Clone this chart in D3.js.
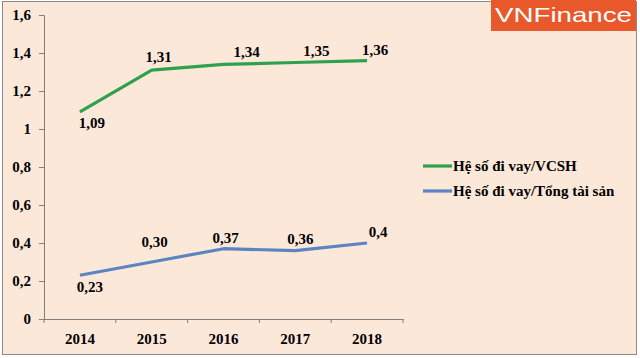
<!DOCTYPE html>
<html><head><meta charset="utf-8">
<script src="https://cdn.jsdelivr.net/npm/d3@7"></script>
<style>body{margin:0;background:#fff}svg{display:block}</style>
</head><body><svg id="c" width="640" height="358"></svg>
<script>
const years = ["2014","2015","2016","2017","2018"];
const seriesNames = ["Hệ số đi vay/VCSH","Hệ số đi vay/Tổng tài sản"];
const vcsh = [1.09,1.31,1.34,1.35,1.36];
const tongTaiSan = [0.23,0.30,0.37,0.36,0.40];
const vcshLabels = ["1,09","1,31","1,34","1,35","1,36"];
const ttsLabels = ["0,23","0,30","0,37","0,36","0,4"];
const yTicks = [0,0.2,0.4,0.6,0.8,1,1.2,1.4,1.6];
const colors = ["#2ea14f","#5b84c2"];
// label placement (dx, dy of baseline relative to point) — layout only
const labelOffsets = [
  [[12,16],[7,-8],[23,-7],[21,-7],[8,-6]],
  [[10,17],[3,-15],[2,-6],[5,-7],[11,-6]]
];

const svg = d3.select("#c");
const serif = sel => sel.style("font-family",'"Liberation Serif"').style("font-weight","bold")
  .style("font-size","15px").style("fill","#000");

svg.append("rect").attr("x",2.5).attr("y",1.5).attr("width",634).attr("height",353)
  .attr("fill","#fce8d9").attr("stroke","#8a8a8a").attr("stroke-width",1);

const x = d3.scaleBand().domain(years).range([44,403]);
const y = d3.scaleLinear().domain([0,1.6]).range([319,15]);

const yAxis = svg.append("g").attr("transform","translate(44,0)")
  .call(d3.axisLeft(y).tickValues(yTicks).tickSize(5).tickPadding(8)
    .tickFormat(d => String(d).replace(".", ",")));
const xAxis = svg.append("g").attr("transform","translate(0,319)")
  .call(d3.axisBottom(x).tickSize(0).tickPadding(14));
[yAxis,xAxis].forEach(g=>{
  g.selectAll("path,line").attr("stroke","#7f7f7f");
  g.selectAll("text").call(serif);
});
svg.append("g").selectAll("line").data(years.concat(["end"])).join("line")
  .attr("x1",(d,i)=> i<years.length ? x(d) : x.range()[1])
  .attr("x2",(d,i)=> i<years.length ? x(d) : x.range()[1])
  .attr("y1",319).attr("y2",323).attr("stroke","#7f7f7f");

const cx = d => x(d)+x.bandwidth()/2;
const line = d3.line().x((d,i)=>cx(years[i])).y(d=>y(d));
[vcsh,tongTaiSan].forEach((s,k)=>{
  svg.append("path").datum(s).attr("d",line).attr("fill","none")
    .attr("stroke",colors[k]).attr("stroke-width",3.2).attr("stroke-linejoin","round");
});
const lab = (s,labels,off)=>{
  svg.append("g").selectAll("text").data(s).join("text")
   .attr("x",(d,i)=>cx(years[i])+off[i][0]).attr("y",(d,i)=> y(d)+off[i][1])
   .attr("text-anchor","middle").text((d,i)=>labels[i]).call(serif);
};
lab(vcsh,vcshLabels,labelOffsets[0]);
lab(tongTaiSan,ttsLabels,labelOffsets[1]);

const lg = svg.append("g");
seriesNames.forEach((n,i)=>{
  const yy = 166 + i*25;
  lg.append("line").attr("x1",423).attr("x2",452).attr("y1",yy).attr("y2",yy)
    .attr("stroke",colors[i]).attr("stroke-width",3.2);
  lg.append("text").attr("x",453).attr("y",yy+5).text(n).call(serif);
});

svg.append("rect").attr("x",491).attr("y",0).attr("width",145).attr("height",31).attr("fill","#e9582a");
svg.append("text").attr("x",495).attr("y",22)
  .attr("textLength",137).attr("lengthAdjust","spacingAndGlyphs")
  .style("font-family",'"Liberation Sans"').style("font-size","21px")
  .style("fill","#fff").text("VNFinance");
</script></body></html>
